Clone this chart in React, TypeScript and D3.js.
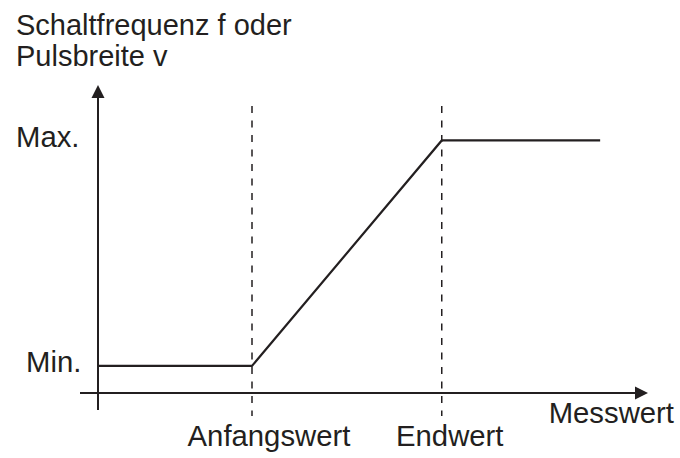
import React from 'react';
import * as d3 from 'd3';

// Kennlinie: Messwert -> Schaltfrequenz / Pulsbreite (abstract units 0..10)
const curveX = [0, 2.8, 6.25, 9.13];
const curveY = [0.88, 0.88, 8.2, 8.2];
const levelLabels = ['Min.', 'Max.'];
const levelValues = [0.88, 8.2];
const markLabels = ['Anfangswert', 'Endwert'];
const markValues = [2.8, 6.25];
const titleLines = ['Schaltfrequenz f oder', 'Pulsbreite v'];
const xAxisLabel = 'Messwert';

const W = 680;
const H = 458;
const ink = '#231f20';
const font = '"Liberation Sans", Arial, Helvetica, sans-serif';
const fs = 29.3;

const App = () => {
  const x = d3.scaleLinear().domain([0, 10]).range([98, 648]);
  const y = d3.scaleLinear().domain([0, 10]).range([393, 85]);

  const pts: [number, number][] = curveX.map((v, i) => [x(v), y(curveY[i])]);
  const line = d3.line();

  const x0 = x(0);
  const y0 = y(0);
  const arrow = 13;

  return (
    <svg width={W} height={H} style={{ position: 'absolute', left: 0, top: 0, background: '#fff' }}
      fontFamily={font} fill={ink}>
      {/* title */}
      {titleLines.map((t, i) => (
        <text key={t} x={16} y={35 + i * 31} fontSize={29}>{t}</text>
      ))}

      {/* y axis */}
      <line x1={x0} x2={x0} y1={410} y2={y(10) + arrow - 1} stroke={ink} strokeWidth={2} />
      <path d={`M${x0},${y(10)} L${x0 - 6.5},${y(10) + arrow} L${x0 + 6.5},${y(10) + arrow} Z`} fill={ink} />

      {/* x axis */}
      <line x1={80} x2={x(10) - arrow + 1} y1={y0} y2={y0} stroke={ink} strokeWidth={2} />
      <path d={`M${x(10)},${y0} L${x(10) - arrow},${y0 - 6.5} L${x(10) - arrow},${y0 + 6.5} Z`} fill={ink} />
      <text x={674} y={423} fontSize={fs} textAnchor="end">{xAxisLabel}</text>

      {/* dashed markers */}
      {markValues.map((v, i) => (
        <g key={markLabels[i]}>
          <line x1={x(v)} x2={x(v)} y1={106} y2={416} stroke={ink} strokeWidth={1.5} strokeDasharray="7,7.5" />
          <text x={x(v) + (i === 0 ? 17 : 8)} y={446} fontSize={fs} textAnchor="middle">{markLabels[i]}</text>
        </g>
      ))}

      {/* level labels */}
      {levelValues.map((v, i) => (
        <text key={levelLabels[i]} x={i === 0 ? 26 : 16} y={y(v) + (i === 0 ? 6 : 7)} fontSize={fs}>{levelLabels[i]}</text>
      ))}

      {/* characteristic */}
      <path d={line(pts) || ''} fill="none" stroke={ink} strokeWidth={2.2} />
    </svg>
  );
};

export default App;
